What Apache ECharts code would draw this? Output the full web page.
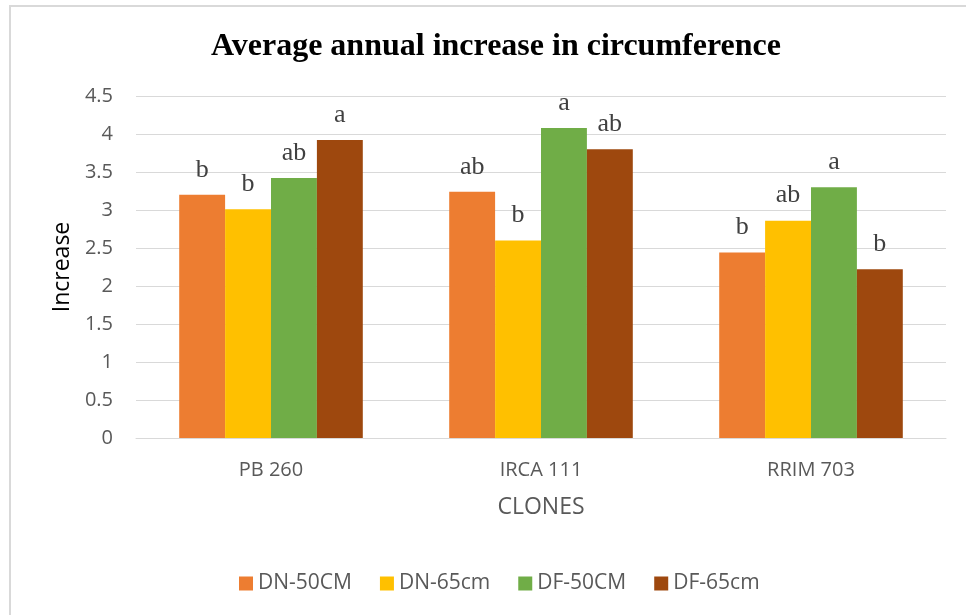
<!DOCTYPE html>
<html>
<head>
<meta charset="utf-8">
<script src="https://cdn.jsdelivr.net/npm/echarts@6/dist/echarts.min.js"></script>
<style>html,body{margin:0;padding:0;background:#fff}#c{width:966px;height:615px}</style>
</head>
<body>
<div id="c"></div>
<script>
const categories = ['PB 260', 'IRCA 111', 'RRIM 703'];
const seriesNames = ['DN-50CM', 'DN-65cm', 'DF-50CM', 'DF-65cm'];
const dn50 = [3.20, 3.24, 2.44];
const dn65 = [3.01, 2.60, 2.86];
const df50 = [3.42, 4.08, 3.30];
const df65 = [3.92, 3.80, 2.22];
const dn50Letters = ['b', 'ab', 'b'];
const dn65Letters = ['b', 'b', 'ab'];
const df50Letters = ['ab', 'a', 'a'];
const df65Letters = ['a', 'ab', 'b'];
const colors = ['#ED7D31', '#FFC000', '#70AD47', '#9E480E'];

const values = [dn50, dn65, df50, df65];
const letters = [dn50Letters, dn65Letters, df50Letters, df65Letters];

const chart = echarts.init(document.getElementById('c'), null, {renderer: 'canvas'});
const sansFont = 'Open Sans';
chart.setOption({
  animation: false,
  backgroundColor: '#fff',
  color: colors,
  graphic: [{
    type: 'polyline',
    shape: {points: [[10, 620], [10, 6], [970, 6]]},
    style: {stroke: '#d9d9d9', lineWidth: 2, fill: null},
    silent: true
  }],
  title: {
    text: 'Average annual increase in circumference',
    left: 206,
    top: 26,
    textStyle: {fontFamily: 'Liberation Serif', fontWeight: 'bold', fontSize: 32, color: '#000'}
  },
  legend: {
    data: seriesNames,
    top: 568,
    left: 234,
    itemWidth: 14,
    itemHeight: 14,
    itemGap: 28,
    icon: 'rect',
    textStyle: {fontFamily: sansFont, fontSize: 21, color: '#595959'}
  },
  grid: {left: 136, right: 20, top: 96, bottom: 177, containLabel: false},
  xAxis: {
    type: 'category',
    data: categories,
    name: 'CLONES',
    nameLocation: 'middle',
    nameGap: 58,
    nameTextStyle: {fontFamily: sansFont, fontSize: 23, color: '#595959'},
    axisLine: {lineStyle: {color: '#d9d9d9', width: 1}},
    axisTick: {show: false},
    axisLabel: {fontFamily: sansFont, fontSize: 20, color: '#595959', margin: 22}
  },
  yAxis: {
    type: 'value',
    min: 0,
    max: 4.5,
    interval: 0.5,
    name: 'Increase',
    nameLocation: 'middle',
    nameGap: 62,
    nameTextStyle: {fontFamily: sansFont, fontSize: 23, color: '#000'},
    axisLine: {show: false},
    axisTick: {show: false},
    axisLabel: {fontFamily: sansFont, fontSize: 20, color: '#595959', margin: 23},
    splitLine: {lineStyle: {color: '#d9d9d9', width: 1}}
  },
  series: seriesNames.map((name, i) => ({
    name: name,
    type: 'bar',
    data: values[i],
    barGap: '0%',
    barCategoryGap: '32%',
    itemStyle: {color: colors[i]},
    label: {
      show: true,
      position: 'top',
      distance: 12,
      fontFamily: 'Liberation Serif',
      fontSize: 26,
      color: '#404040',
      formatter: p => letters[i][p.dataIndex]
    }
  }))
});
</script>
</body>
</html>
